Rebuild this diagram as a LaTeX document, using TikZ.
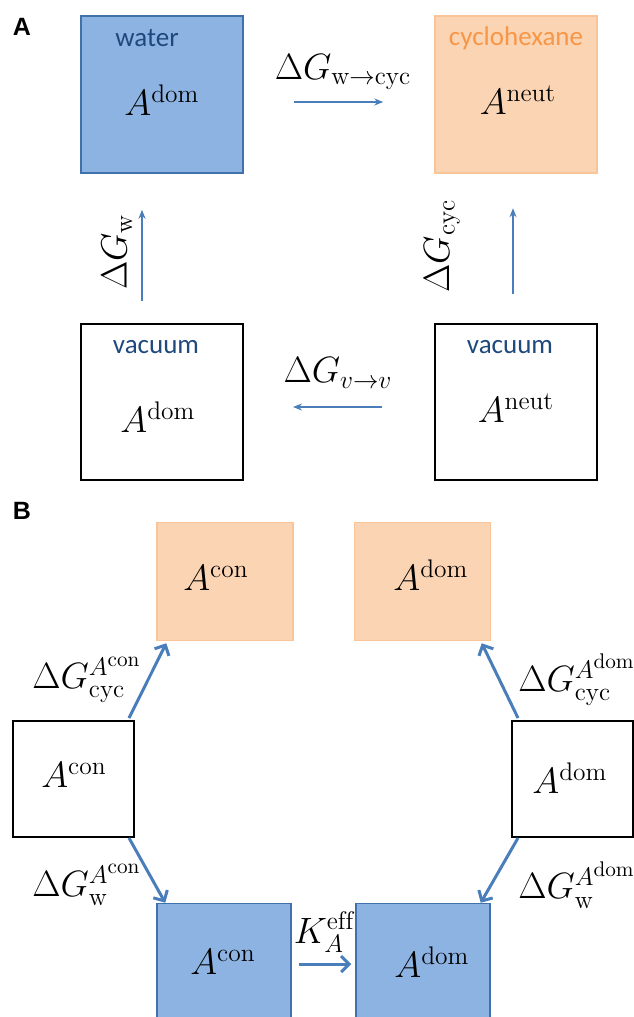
\documentclass[tikz,border=0pt]{standalone}
\usepackage{fontspec}
\setsansfont{Liberation Sans}
\newfontfamily\calibri{Carlito}
\usepackage{tikz}
\usetikzlibrary{positioning, arrows.meta}

\definecolor{watfill}{RGB}{141,179,226}
\definecolor{watline}{RGB}{65,113,170}
\definecolor{cycfill}{RGB}{251,212,180}
\definecolor{cycline}{RGB}{249,196,152}
\definecolor{watertext}{RGB}{31,73,125}
\definecolor{cyctext}{RGB}{247,150,70}
\definecolor{arrblue}{RGB}{74,126,187}

\begin{document}
\begin{tikzpicture}[
    x=0.5pt, y=-0.5pt,
    >=Stealth,
    panel/.style={font=\fontsize{12.5}{15}\selectfont\sffamily\bfseries},
    phase/.style={font=\fontsize{13.5}{16}\selectfont\calibri, inner sep=0pt},
    species/.style={font=\LARGE, inner sep=0pt, scale=1.06},
    watbox/.style={draw=watline, fill=watfill, line width=0.75pt, minimum width=81pt, minimum height=78.5pt},
    cycbox/.style={draw=cycline, fill=cycfill, line width=0.75pt, minimum width=81pt, minimum height=78.5pt},
    vacbox/.style={draw, line width=1pt, minimum width=81pt, minimum height=78pt},
    watsq/.style={draw=watline, fill=watfill, line width=0.75pt, minimum width=67pt, minimum height=59pt},
    cycsq/.style={draw=cycline, fill=cycfill, line width=0.75pt, minimum width=68pt, minimum height=59pt},
    vacsq/.style={draw, line width=1pt, minimum width=60.5pt, minimum height=58pt},
    arr/.style={->, draw=arrblue, line width=0.75pt, >={Stealth[length=4.5pt,width=3.5pt]}},
    barr/.style={->, draw=arrblue, line width=1.5pt, >={Straight Barb[length=4pt,width=8pt]}},
]
\useasboundingbox (0,0) rectangle (633,1017);

\node[panel] (pa) at (22,27) {A};
\node[watbox] (water) at (162,94.5) {};
\node[cycbox] (cyc) at (516,94.5) {};
\node[vacbox] (vacdom) at (162,402) {};
\node[vacbox] (vacneut) at (516,402) {};
\node[phase, text=watertext] (twater) at (147,38) {water};
\node[phase, text=cyctext] (tcyc) at (516,38) {cyclohexane};
\node[phase, text=watertext] (tvacdom) at (156,347) {vacuum};
\node[phase, text=watertext] (tvacneut) at (510,347) {vacuum};
\node[species] (adomw) at (162,100) {$A^{\mathrm{dom}}$};
\node[species] (aneutc) at (518,100) {$A^{\mathrm{neut}}$};
\node[species] (adomv) at (158,417) {$A^{\mathrm{dom}}$};
\node[species] (aneutv) at (516,408) {$A^{\mathrm{neut}}$};
\node[species] (gwcyc) at (343,72) {$\Delta G_{\mathrm{w}\rightarrow\mathrm{cyc}}$};
\node[species, rotate=90] (gw) at (117,252) {$\Delta G_{\mathrm{w}}$};
\node[species, rotate=90] (gcyc) at (442,246) {$\Delta G_{\mathrm{cyc}}$};
\node[species] (gvv) at (338,373) {$\Delta G_{v\rightarrow v}$};

\draw[arr, shorten <=25pt, shorten >=25.5pt] ([yshift=-3.75pt]water.east) -- ([yshift=-3.75pt]cyc.west);
\draw[arr, shorten <=11pt, shorten >=18pt] ([xshift=-10pt]vacdom.north) -- ([xshift=-10pt]water.south);
\draw[arr, shorten <=14.5pt, shorten >=17.25pt] ([xshift=-1.5pt]vacneut.north) -- ([xshift=-1.5pt]cyc.south);
\draw[arr, shorten <=26pt, shorten >=24.5pt] ([yshift=-2.5pt]vacneut.west) -- ([yshift=-2.5pt]vacdom.east);

\node[panel] (pb) at (22,511) {B};
\node[cycsq] (conorg) at (225,581.5) {};
\node[cycsq] (domorg) at (422.5,581.5) {};
\node[vacsq] (convac) at (73.5,779) {};
\node[vacsq] (domvac) at (572,779) {};
\node[watsq] (conwat) at (224,962.5) {};
\node[watsq] (domwat) at (423,962.5) {};
\node[species] (aconorg) at (216,578) {$A^{\mathrm{con}}$};
\node[species] (adomorg) at (431,575) {$A^{\mathrm{dom}}$};
\node[species] (aconvac) at (74,775) {$A^{\mathrm{con}}$};
\node[species] (adomvac) at (570,778) {$A^{\mathrm{dom}}$};
\node[species] (aconwat) at (223,962) {$A^{\mathrm{con}}$};
\node[species] (adomwat) at (432,962) {$A^{\mathrm{dom}}$};
\node[species] (gcyccon) at (87,680) {$\Delta G^{A^{\mathrm{con}}}_{\mathrm{cyc}}$};
\node[species] (gcycdom) at (577,680) {$\Delta G^{A^{\mathrm{dom}}}_{\mathrm{cyc}}$};
\node[species] (gwcon) at (87,885) {$\Delta G^{A^{\mathrm{con}}}_{\mathrm{w}}$};
\node[species] (gwdom) at (577,885) {$\Delta G^{A^{\mathrm{dom}}}_{\mathrm{w}}$};
\node[species] (keff) at (324,932) {$K^{\mathrm{eff}}_{A}$};

\draw[barr] ([xshift=-3pt,yshift=1pt]convac.north east) -- ([xshift=5pt,yshift=-1pt]conorg.south west);
\draw[barr] ([xshift=3.75pt,yshift=1pt]domvac.north west) -- ([xshift=-4.75pt,yshift=-1pt]domorg.south east);
\draw[barr] ([xshift=-3pt]convac.south east) -- ([xshift=4.5pt]conwat.north west);
\draw[barr] ([xshift=3.75pt]domvac.south west) -- ([xshift=-5pt]domwat.north east);
\draw[barr, shorten <=3.5pt, shorten >=2pt] ([yshift=-0.75pt]conwat.east) -- ([yshift=-0.75pt]domwat.west);
\end{tikzpicture}
\end{document}
